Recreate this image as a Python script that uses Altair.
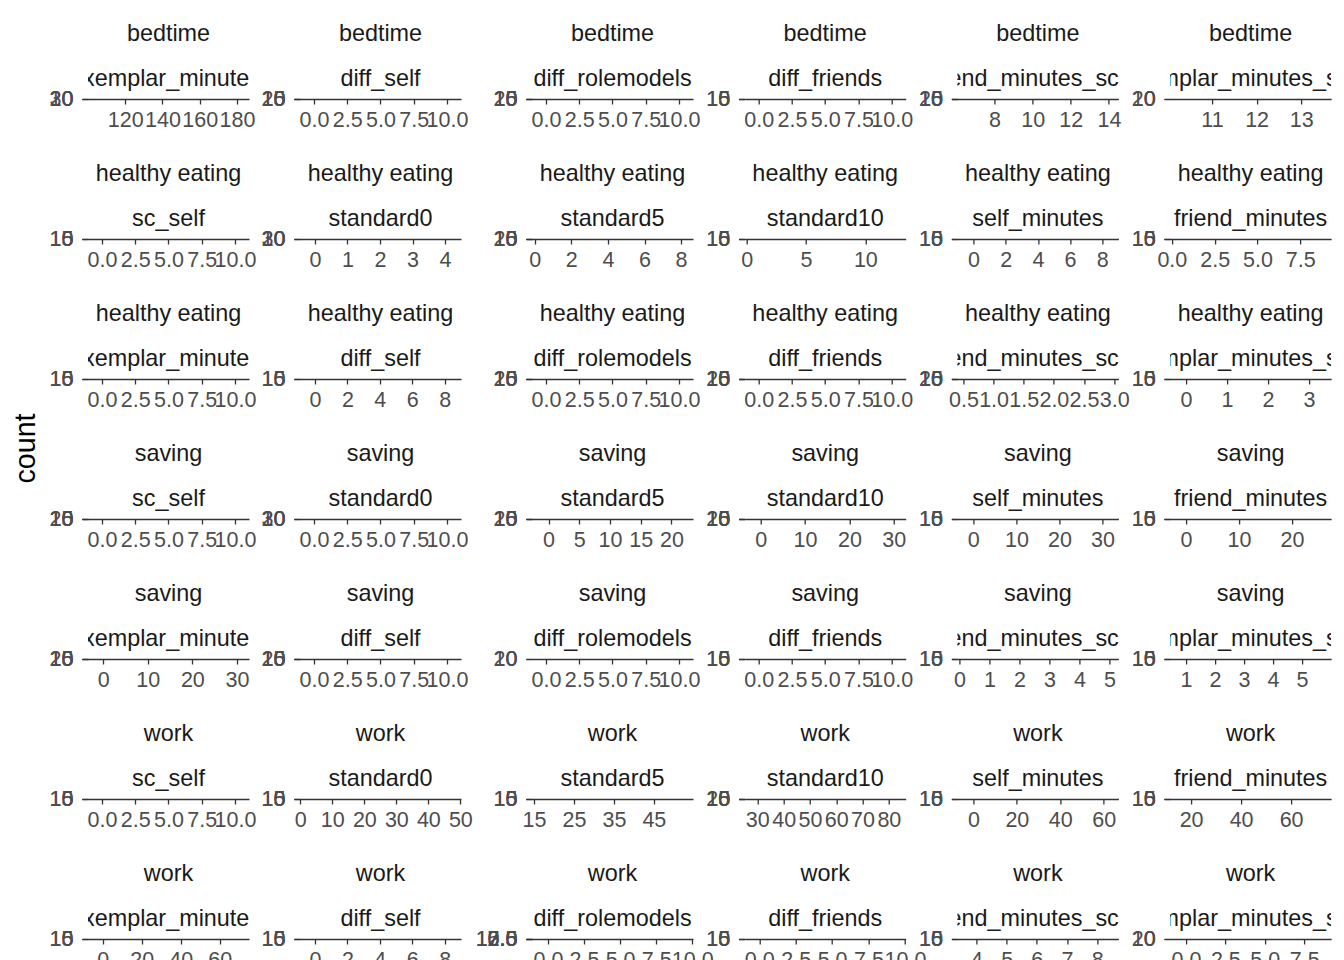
import altair as alt
import pandas as pd

FONT = "Liberation Sans"

row_a = ["exemplar_minutes", "diff_self", "diff_rolemodels", "diff_friends",
         "friend_minutes_sc", "exemplar_minutes_sc"]
row_b = ["sc_self", "standard0", "standard5", "standard10",
         "self_minutes", "friend_minutes"]

domains = (["bedtime"] * 6 + ["healthy eating"] * 12 +
           ["saving"] * 12 + ["work"] * 12)
variables = row_a + row_b + row_a + row_b + row_a + row_b + row_a

x_lo = [100, -1.05, -1.05, -1.05, 6.05, 10.06,
        -1.05, -0.46, -0.15, -0.17, -1.0, -0.1,
        -1.05, -0.92, -1.05, -1.05, 0.4, -0.39,
        -1.05, -1.05, -2.7, -3.6, -3.7, -3.0,
        -3.4, -1.05, -1.05, -1.05, -0.07, 0.45,
        -1.05, -0.1, 14.5, 25.2, -7.4, 11.6,
        -7.5, -0.92, -1.1, -1.0, 3.37, -1.0]
x_hi = [186.5, 11.05, 11.05, 11.05, 14.5, 13.67,
        11.05, 4.49, 8.65, 13.4, 9.0, 9.3,
        11.05, 9.0, 11.05, 11.05, 3.07, 3.54,
        11.05, 11.05, 23.5, 32.7, 33.7, 27.4,
        32.7, 11.05, 11.05, 11.05, 5.3, 6.0,
        11.05, 50.2, 54.8, 86.4, 66.8, 76,
        75, 9.0, 10.05, 10.05, 8.7, 9.2]

T10 = [0, 2.5, 5, 7.5, 10]
x_ticks = [[120, 140, 160, 180], T10, T10, T10, [8, 10, 12, 14], [11, 12, 13],
           T10, [0, 1, 2, 3, 4], [0, 2, 4, 6, 8], [0, 5, 10], [0, 2, 4, 6, 8], [0, 2.5, 5, 7.5],
           T10, [0, 2, 4, 6, 8], T10, T10, [0.5, 1, 1.5, 2, 2.5, 3], [0, 1, 2, 3],
           T10, T10, [0, 5, 10, 15, 20], [0, 10, 20, 30], [0, 10, 20, 30], [0, 10, 20],
           [0, 10, 20, 30], T10, T10, T10, [0, 1, 2, 3, 4, 5], [1, 2, 3, 4, 5],
           T10, [0, 10, 20, 30, 40, 50], [15, 25, 35, 45], [30, 40, 50, 60, 70, 80],
           [0, 20, 40, 60], [20, 40, 60],
           [0, 20, 40, 60], [0, 2, 4, 6, 8], T10, T10, [4, 5, 6, 7, 8], [0, 2.5, 5, 7.5]]
x_fmt = ["d", ".1f", ".1f", ".1f", "d", "d",
         ".1f", "d", "d", "d", "d", ".1f",
         ".1f", "d", ".1f", ".1f", ".1f", "d",
         ".1f", ".1f", "d", "d", "d", "d",
         "d", ".1f", ".1f", ".1f", "d", "d",
         ".1f", "d", "d", "d", "d", "d",
         "d", "d", ".1f", ".1f", "d", ".1f"]

y_top = [30, 20, 20, 15, 20, 20,
         15, 30, 20, 15, 15, 15,
         15, 15, 20, 20, 20, 15,
         20, 30, 20, 20, 15, 15,
         20, 20, 20, 15, 15, 15,
         15, 15, 15, 20, 15, 15,
         15, 15, 12.5, 15, 15, 20]
y_step = [10, 5, 5, 5, 5, 10,
          5, 10, 5, 5, 5, 5,
          5, 5, 5, 5, 5, 5,
          5, 10, 5, 5, 5, 5,
          5, 5, 10, 5, 5, 5,
          5, 5, 5, 5, 5, 5,
          5, 5, 2.5, 5, 5, 10]

# style: horizontal nudge of over-wide strip labels (as clipped in the reference)
STRIP_DX = {"exemplar_minutes": -3, "friend_minutes_sc": -14, "exemplar_minutes_sc": -15}

W = 161
H = 93
LINE = "#333333"
LABEL = "#4d4d4d"
STRIP = "#1a1a1a"
STRIP_SIZE = 23.4
TICK_SIZE = 21.5


def make_panel(i):
    df = pd.DataFrame({
        "lo": [x_lo[i]], "hi": [x_hi[i]], "count": [y_top[i]], "base": [0],
        "domain": [domains[i]], "variable": [variables[i]],
    })
    n = int(round(y_top[i] / y_step[i]))
    yvals = [k * y_step[i] for k in range(n + 1)]
    yfmt = ".1f" if y_step[i] != int(y_step[i]) else "d"

    yaxis_kw = dict(values=yvals, format=yfmt, domain=False, grid=False,
                    tickSize=6, tickColor=LINE, tickWidth=1.2,
                    labelColor=LABEL, labelFontSize=TICK_SIZE, labelFont=FONT,
                    labelPadding=9, labelOverlap=False)
    if i == 18:
        yaxis = alt.Axis(title="count", titleFontSize=28.7, titleFont=FONT,
                         titleFontWeight="normal", titleColor="#000000",
                         titleAngle=270, titleX=-53.5, titleY=22,
                         titleAlign="center", titleBaseline="alphabetic",
                         **yaxis_kw)
    else:
        yaxis = alt.Axis(title=None, **yaxis_kw)

    xaxis = alt.Axis(values=x_ticks[i], format=x_fmt[i], title=None, grid=False,
                     domain=True, domainColor=LINE, domainWidth=1.3,
                     tickSize=5, tickColor=LINE, tickWidth=1.3,
                     labelColor=LABEL, labelFontSize=TICK_SIZE, labelFont=FONT,
                     labelPadding=5, labelOverlap=False, labelFlush=False)

    base = alt.Chart(df)
    bars = base.mark_rect(color="#595959").encode(
        x=alt.X("lo:Q", scale=alt.Scale(domain=[x_lo[i], x_hi[i]], nice=False, zero=False),
                axis=xaxis),
        x2="hi:Q",
        y=alt.Y("count:Q", scale=alt.Scale(domain=[0, y_top[i]], range=[H, H],
                                           nice=False, zero=True),
                axis=yaxis),
        y2="base:Q",
    )
    strip_dom = base.mark_text(font=FONT, fontSize=STRIP_SIZE, color=STRIP, align="center",
                               baseline="alphabetic", clip=True,
                               x=W / 2, y=H - 58.5).encode(text="domain:N")
    strip_var = base.mark_text(font=FONT, fontSize=STRIP_SIZE, color=STRIP, align="center",
                               baseline="alphabetic", clip=True,
                               dx=STRIP_DX.get(variables[i], 0),
                               x=W / 2, y=H - 13).encode(text="variable:N")
    return alt.layer(bars, strip_dom, strip_var).properties(width=W, height=H)


NCOL = 6
idx_left = [i for i in range(len(variables)) if i % NCOL < 2]
idx_right = [i for i in range(len(variables)) if i % NCOL >= 2]

left = alt.concat(*[make_panel(i) for i in idx_left], columns=2, bounds="flush",
                  spacing=alt.RowColnumber(row=47, column=51))
right = alt.concat(*[make_panel(i) for i in idx_right], columns=4, bounds="flush",
                   spacing=alt.RowColnumber(row=47, column=51.7))

chart = alt.hconcat(left, right, spacing=1).properties(
    padding={"left": 11, "top": 5, "right": 5, "bottom": 5},
    background="white",
).configure_view(stroke="transparent")

chart.save("out.html", embed_options={"renderer": "svg", "actions": False})
